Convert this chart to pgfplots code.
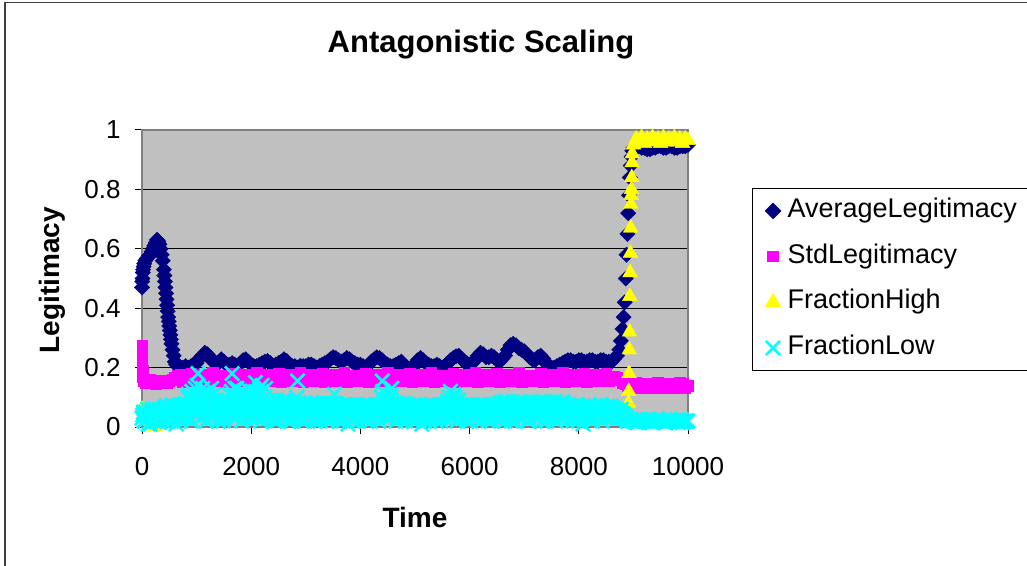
\documentclass[border=0pt]{standalone}
\usepackage{fontspec}
\setmainfont{Liberation Sans}
\usepackage{pgfplots}
\pgfplotsset{compat=1.18}
\definecolor{navyc}{HTML}{000080}
\definecolor{magc}{HTML}{FF00FF}
\definecolor{yelc}{HTML}{FFFF00}
\definecolor{cyc}{HTML}{00FFFF}
\definecolor{plotbg}{HTML}{C0C0C0}
\definecolor{bordc}{HTML}{808080}
\begin{document}
\begin{tikzpicture}[x=1pt,y=1pt]
\useasboundingbox (0,0) rectangle (1027,565);
\fill[white] (0,0) rectangle (1027,565);
\draw[line width=1.5pt, black!75] (4.8,-20) -- (4.8,562.5) -- (1050,562.5);
\node[font=\fontsize{31}{36}\selectfont\bfseries, anchor=base] at (481,512) {Antagonistic Scaling};
\node[font=\fontsize{28}{33}\selectfont\bfseries, rotate=90] at (52,285) {Legitimacy};
\node[font=\fontsize{28}{33}\selectfont\bfseries, anchor=base] at (415,38) {Time};
\begin{axis}[
  at={(142pt,138pt)}, anchor=south west,
  width=546pt, height=297pt, scale only axis,
  xmin=0, xmax=10000, ymin=0, ymax=1,
  xtick={0,2000,4000,6000,8000,10000},
  ytick={0,0.2,0.4,0.6,0.8,1},
  scaled x ticks=false,
  xticklabel style={/pgf/number format/1000 sep={}, yshift=-20pt},
  yticklabel style={xshift=-11pt},
  tick label style={font=\fontsize{26}{31}\selectfont},
  /pgf/number format/assume math mode=true,
  axis background/.style={fill=plotbg},
  axis line style={bordc, line width=1.3pt},
  ymajorgrids, grid style={black, line width=1pt},
  tick align=outside, tick pos=left, major tick length=7pt,
  tick style={black, line width=1pt},
  clip=false,
  legend cell align=left,
  legend style={at={(1.117,0.805)}, anchor=north west, draw=black, line width=1pt, fill=white,
    font=\fontsize{27}{31}\selectfont, inner xsep=13pt, inner ysep=10pt, column sep=7pt,
    nodes={inner sep=0pt, text height=19pt, text depth=6pt}, row sep=20.7pt},
]
\addplot[only marks, mark=square*, mark size=5.4pt, mark options={rotate=45, fill=navyc, draw=navyc}] coordinates {
(0,0.47)(5,0.49)(10,0.5)(15,0.52)(20,0.53)(30,0.54)(40,0.55)(60,0.56)(80,0.565)(100,0.57)(125,0.575)(150,0.58)(175,0.59)(200,0.6)(225,0.61)(250,0.62)(275,0.63)(300,0.625)(320,0.615)(340,0.6)(360,0.58)(380,0.56)(400,0.53)(410,0.51)(420,0.49)(430,0.47)(440,0.45)(450,0.43)(460,0.41)(470,0.39)(480,0.37)(490,0.355)(500,0.34)(510,0.325)(520,0.31)(530,0.295)(540,0.28)(560,0.26)(580,0.24)(600,0.22)(625,0.21)(650,0.205)(700,0.2)(750,0.2)(800,0.205)(850,0.2)(900,0.205)(950,0.21)(1000,0.215)(1050,0.23)(1100,0.24)(1150,0.25)(1200,0.245)(1250,0.235)(1300,0.22)(1350,0.215)(1400,0.215)(1450,0.228)(1500,0.22)(1550,0.21)(1600,0.21)(1650,0.215)(1700,0.21)(1750,0.205)(1800,0.215)(1850,0.225)(1900,0.228)(1950,0.22)(2000,0.21)(2050,0.205)(2100,0.205)(2150,0.21)(2200,0.215)(2250,0.22)(2300,0.222)(2350,0.215)(2400,0.205)(2450,0.21)(2500,0.215)(2550,0.22)(2600,0.228)(2650,0.222)(2700,0.21)(2750,0.205)(2800,0.205)(2850,0.2)(2900,0.206)(2950,0.205)(3000,0.205)(3050,0.21)(3100,0.21)(3150,0.205)(3200,0.2)(3250,0.205)(3300,0.21)(3350,0.215)(3400,0.22)(3450,0.228)(3500,0.235)(3550,0.232)(3600,0.225)(3650,0.22)(3700,0.225)(3750,0.232)(3800,0.228)(3850,0.22)(3900,0.215)(3950,0.21)(4000,0.21)(4050,0.205)(4100,0.2)(4150,0.21)(4200,0.22)(4250,0.228)(4300,0.235)(4350,0.232)(4400,0.225)(4450,0.215)(4500,0.21)(4550,0.205)(4600,0.205)(4650,0.21)(4700,0.215)(4750,0.22)(4800,0.21)(4850,0.2)(4900,0.195)(4950,0.195)(5000,0.21)(5050,0.225)(5100,0.232)(5150,0.225)(5200,0.215)(5250,0.21)(5300,0.205)(5350,0.205)(5400,0.21)(5450,0.205)(5500,0.2)(5550,0.205)(5600,0.215)(5650,0.225)(5700,0.232)(5750,0.238)(5800,0.24)(5850,0.23)(5900,0.22)(5950,0.215)(6000,0.21)(6050,0.215)(6100,0.225)(6150,0.24)(6200,0.25)(6250,0.245)(6300,0.235)(6350,0.235)(6400,0.24)(6450,0.235)(6500,0.225)(6550,0.22)(6600,0.23)(6650,0.24)(6700,0.26)(6750,0.275)(6800,0.28)(6850,0.275)(6900,0.265)(6950,0.26)(7000,0.255)(7050,0.245)(7100,0.235)(7150,0.228)(7200,0.225)(7250,0.235)(7300,0.24)(7350,0.23)(7400,0.215)(7450,0.205)(7500,0.2)(7550,0.2)(7600,0.205)(7650,0.21)(7700,0.215)(7750,0.22)(7800,0.225)(7850,0.225)(7900,0.22)(7950,0.22)(8000,0.225)(8050,0.225)(8100,0.22)(8150,0.22)(8200,0.225)(8250,0.225)(8300,0.22)(8350,0.22)(8400,0.225)(8450,0.225)(8500,0.22)(8550,0.22)(8600,0.22)(8650,0.23)(8700,0.24)(8740,0.26)(8770,0.29)(8800,0.33)(8820,0.37)(8840,0.42)(8860,0.5)(8875,0.58)(8890,0.65)(8905,0.72)(8920,0.78)(8935,0.84)(8950,0.88)(8965,0.91)(8980,0.93)(9000,0.94)(9050,0.945)(9100,0.945)(9150,0.94)(9200,0.94)(9250,0.935)(9300,0.935)(9350,0.94)(9400,0.94)(9450,0.945)(9500,0.945)(9550,0.94)(9600,0.94)(9650,0.945)(9700,0.945)(9750,0.94)(9800,0.94)(9850,0.945)(9900,0.945)(9950,0.945)(10000,0.95)
};
\addlegendentry{AverageLegitimacy}
\addplot[only marks, mark=square*, mark size=5.3pt, mark options={fill=magc, draw=magc}] coordinates {
(0,0.276)(3,0.25)(6,0.22)(9,0.19)(12,0.17)(20,0.155)(60,0.15)(100,0.148)(150,0.16)(200,0.15)(250,0.145)(300,0.155)(350,0.148)(400,0.158)(450,0.15)(500,0.155)(550,0.16)(600,0.165)(650,0.172)(700,0.178)(800,0.16)(900,0.18)(1000,0.165)(1100,0.178)(1200,0.16)(1300,0.182)(1400,0.165)(1500,0.175)(1600,0.158)(1700,0.18)(1800,0.168)(1900,0.178)(2000,0.16)(2100,0.182)(2200,0.165)(2300,0.176)(2400,0.158)(2500,0.18)(2600,0.166)(2700,0.178)(2800,0.16)(2900,0.182)(3000,0.165)(3100,0.177)(3200,0.158)(3300,0.18)(3400,0.168)(3500,0.178)(3600,0.16)(3700,0.182)(3800,0.165)(3900,0.175)(4000,0.158)(4100,0.18)(4200,0.166)(4300,0.178)(4400,0.16)(4500,0.182)(4600,0.165)(4700,0.177)(4800,0.158)(4900,0.18)(5000,0.168)(5100,0.178)(5200,0.16)(5300,0.182)(5400,0.165)(5500,0.175)(5600,0.158)(5700,0.18)(5800,0.166)(5900,0.178)(6000,0.16)(6100,0.182)(6200,0.165)(6300,0.177)(6400,0.158)(6500,0.18)(6600,0.168)(6700,0.178)(6800,0.16)(6900,0.182)(7000,0.165)(7100,0.175)(7200,0.158)(7300,0.18)(7400,0.166)(7500,0.178)(7600,0.16)(7700,0.182)(7800,0.165)(7900,0.177)(8000,0.158)(8100,0.18)(8200,0.168)(8300,0.178)(8400,0.16)(8500,0.18)(8600,0.17)(8650,0.17)(8700,0.165)(8750,0.158)(8800,0.15)(8850,0.145)(8900,0.14)(9000,0.135)(9100,0.145)(9200,0.138)(9300,0.142)(9400,0.135)(9500,0.145)(9600,0.138)(9700,0.142)(9800,0.135)(9900,0.145)(10000,0.14)
(750,0.152)(850,0.17)(950,0.154)(1050,0.16)(1150,0.152)(1250,0.172)(1350,0.155)(1450,0.162)(1550,0.152)(1650,0.17)(1750,0.155)(1850,0.16)(1950,0.153)(2050,0.168)(2150,0.152)(2250,0.162)(2350,0.156)(2450,0.17)(2550,0.152)(2650,0.16)(2750,0.154)(2850,0.168)(2950,0.152)(3050,0.162)(3150,0.155)(3250,0.17)(3350,0.152)(3450,0.16)(3550,0.154)(3650,0.168)(3750,0.152)(3850,0.162)(3950,0.155)(4050,0.17)(4150,0.152)(4250,0.16)(4350,0.154)(4450,0.168)(4550,0.152)(4650,0.162)(4750,0.155)(4850,0.17)(4950,0.152)(5050,0.16)(5150,0.154)(5250,0.168)(5350,0.152)(5450,0.162)(5550,0.155)(5650,0.17)(5750,0.152)(5850,0.16)(5950,0.154)(6050,0.168)(6150,0.152)(6250,0.162)(6350,0.155)(6450,0.17)(6550,0.152)(6650,0.16)(6750,0.154)(6850,0.168)(6950,0.152)(7050,0.162)(7150,0.155)(7250,0.17)(7350,0.152)(7450,0.16)(7550,0.154)(7650,0.168)(7750,0.152)(7850,0.162)(7950,0.155)(8050,0.17)(8150,0.152)(8250,0.16)(8350,0.154)(8450,0.168)(8550,0.155)
(8950,0.13)(9050,0.15)(9150,0.13)(9250,0.148)(9350,0.132)(9450,0.15)(9550,0.13)(9650,0.148)(9750,0.132)(9850,0.15)(9950,0.13)
};
\addlegendentry{StdLegitimacy}
\addplot[only marks, mark=triangle*, mark size=8.5pt, mark options={fill=yelc, draw=yelc}] coordinates {
(0,0.06)(240,0)
(8900,0.02)(8905,0.05)(8910,0.08)(8915,0.12)(8920,0.18)(8925,0.26)(8930,0.32)(8935,0.44)(8940,0.52)(8945,0.585)(8950,0.67)(8955,0.75)(8960,0.78)(8965,0.8)(8970,0.84)(8975,0.89)(8980,0.92)(9000,0.95)(9050,0.97)(9100,0.96)(9150,0.975)(9200,0.955)(9250,0.97)(9300,0.96)(9350,0.975)(9400,0.965)(9450,0.97)(9500,0.955)(9550,0.975)(9600,0.96)(9650,0.97)(9700,0.965)(9750,0.975)(9800,0.96)(9850,0.97)(9900,0.955)(9950,0.97)(10000,0.965)
};
\addlegendentry{FractionHigh}
\addplot[only marks, mark=x, mark size=10pt, mark options={draw=cyc, line width=2.6pt}] coordinates {
(0,0.03)(25,0.05)(50,0.02)(75,0.04)(100,0.06)(125,0.03)(150,0.01)(175,0.05)(200,0.04)(225,0.02)(250,0.06)(275,0.03)(300,0.05)(325,0.02)(350,0.04)
(375,0.06)(400,0.03)(425,0.07)(450,0.05)(475,0.02)(500,0.065)(525,0.04)(550,0.075)(575,0.03)(600,0.06)(625,0.01)(650,0.07)(675,0.05)(700,0.075)(725,0.03)(750,0.06)(775,0.04)
(800,0.08)(825,0.04)(850,0.11)(875,0.06)(900,0.02)(925,0.1)(950,0.07)(975,0.13)(1000,0.05)(1025,0.18)(1050,0.08)(1075,0.03)(1100,0.11)(1125,0.06)(1150,0.1)(1175,0.02)(1200,0.12)(1225,0.07)(1250,0.04)(1275,0.13)(1300,0.09)(1325,0.05)(1350,0.09)
(1375,0.05)(1400,0.02)(1425,0.07)(1450,0.04)(1475,0.08)(1500,0.03)(1525,0.06)(1550,0.08)
(1575,0.06)(1600,0.11)(1625,0.04)(1650,0.18)(1675,0.08)(1700,0.13)(1725,0.03)(1750,0.1)(1775,0.06)(1800,0.12)(1825,0.02)(1850,0.09)(1875,0.05)(1900,0.1)(1925,0.04)
(1950,0.08)(1975,0.12)(2000,0.03)(2025,0.1)(2050,0.06)(2075,0.15)(2100,0.04)(2125,0.09)(2150,0.13)(2175,0.02)(2200,0.14)(2225,0.07)(2250,0.1)(2275,0.05)(2300,0.09)
(2325,0.03)(2350,0.07)(2375,0.05)(2400,0.08)(2425,0.02)(2450,0.06)(2475,0.09)(2500,0.04)(2525,0.07)(2550,0.08)(2575,0.03)(2600,0.07)(2625,0.05)(2650,0.09)(2675,0.02)(2700,0.06)(2725,0.05)(2750,0.08)(2775,0.04)(2800,0.07)(2825,0.06)
(2850,0.155)
(2875,0.05)(2900,0.07)(2925,0.02)(2950,0.08)(2975,0.05)(3000,0.04)(3025,0.07)(3050,0.03)(3075,0.06)(3100,0.08)(3125,0.05)(3150,0.02)(3175,0.07)(3200,0.05)(3225,0.08)(3250,0.03)(3275,0.06)(3300,0.075)(3325,0.04)(3350,0.06)(3375,0.08)(3400,0.02)(3425,0.07)(3450,0.05)(3475,0.075)(3500,0.03)
(3525,0.11)
(3550,0.04)(3575,0.07)(3600,0.02)(3625,0.06)(3650,0.075)(3675,0.05)(3700,0.03)(3725,0.07)(3750,0.05)(3775,0.01)(3800,0.075)(3825,0.04)(3850,0.06)(3875,0.03)(3900,0.07)(3925,0.05)(3950,0.075)(3975,0.02)(4000,0.06)(4025,0.07)(4050,0.04)(4075,0.06)(4100,0.03)(4125,0.075)(4150,0.05)(4175,0.02)(4200,0.07)(4225,0.05)(4250,0.04)(4275,0.075)(4300,0.03)(4325,0.06)(4350,0.05)(4375,0.07)
(4400,0.155)
(4425,0.06)(4450,0.09)(4475,0.03)(4500,0.07)(4525,0.05)(4550,0.1)
(4575,0.13)
(4600,0.04)(4625,0.08)(4650,0.02)(4675,0.08)(4700,0.06)(4725,0.03)(4750,0.07)(4775,0.05)(4800,0.08)(4825,0.02)(4850,0.06)(4875,0.075)
(4900,0.03)(4925,0.07)(4950,0.05)(4975,0.075)(5000,0.02)(5025,0.06)(5050,0.04)(5075,0.075)(5100,0.05)(5125,0.01)(5150,0.07)(5175,0.05)(5200,0.03)(5225,0.075)(5250,0.06)(5275,0.02)(5300,0.06)(5325,0.075)(5350,0.04)(5375,0.07)(5400,0.03)(5425,0.06)(5450,0.075)(5475,0.02)(5500,0.05)(5525,0.07)(5550,0.04)(5575,0.06)
(5600,0.09)(5625,0.05)(5650,0.12)(5675,0.03)(5700,0.08)(5725,0.1)(5750,0.06)(5775,0.02)(5800,0.09)(5825,0.06)
(5850,0.03)(5875,0.07)(5900,0.05)(5925,0.075)(5950,0.02)(5975,0.06)(6000,0.07)(6025,0.04)(6050,0.075)(6075,0.03)(6100,0.06)(6125,0.05)(6150,0.075)(6175,0.02)(6200,0.07)(6225,0.05)(6250,0.04)(6275,0.075)(6300,0.03)(6325,0.06)(6350,0.05)(6375,0.07)(6400,0.02)(6425,0.06)(6450,0.075)(6475,0.04)(6500,0.06)(6525,0.03)
(6550,0.08)(6575,0.04)(6600,0.085)(6625,0.06)(6650,0.02)(6675,0.07)(6700,0.085)(6725,0.03)(6750,0.06)(6775,0.05)(6800,0.085)(6825,0.02)(6850,0.07)(6875,0.05)(6900,0.08)(6925,0.04)(6950,0.085)(6975,0.03)(7000,0.06)(7025,0.08)(7050,0.05)(7075,0.02)(7100,0.07)(7125,0.085)(7150,0.04)(7175,0.06)(7200,0.08)(7225,0.03)(7250,0.06)(7275,0.085)(7300,0.05)(7325,0.02)(7350,0.07)(7375,0.05)(7400,0.085)(7425,0.04)(7450,0.08)(7475,0.03)(7500,0.06)(7525,0.05)(7550,0.085)(7575,0.02)(7600,0.07)(7625,0.05)(7650,0.08)(7675,0.04)(7700,0.085)(7725,0.03)(7750,0.06)(7775,0.05)(7800,0.07)(7825,0.05)
(7850,0.05)(7875,0.07)(7900,0.02)(7925,0.06)(7950,0.04)(7975,0.075)(8000,0.03)(8025,0.06)(8050,0.07)(8075,0.01)(8100,0.05)(8125,0.065)(8150,0.03)(8175,0.075)(8200,0.04)(8225,0.06)(8250,0.02)(8275,0.07)(8300,0.05)(8325,0.065)(8350,0.03)(8375,0.06)(8400,0.075)(8425,0.02)(8450,0.05)(8475,0.065)(8500,0.04)(8525,0.07)(8550,0.03)(8575,0.06)(8600,0.05)(8625,0.065)(8650,0.04)
(8675,0.06)(8700,0.03)(8725,0.05)(8750,0.04)(8775,0.06)(8800,0.03)(8825,0.04)(8850,0.03)(8875,0.025)
(8900,0.02)(8950,0.025)(9000,0.02)(9050,0.015)(9100,0.02)(9150,0.025)(9200,0.02)(9250,0.02)(9300,0.025)(9350,0.015)(9400,0.02)(9450,0.025)(9500,0.02)(9550,0.02)(9600,0.015)(9650,0.025)(9700,0.02)(9750,0.02)(9800,0.025)(9850,0.02)(9900,0.015)(9950,0.02)(10000,0.02)
(12.5,0.04)(37.5,0.02)(62.5,0.05)(87.5,0.03)(112.5,0.01)(137.5,0.045)(162.5,0.035)(187.5,0.06)(212.5,0.02)(237.5,0.05)(262.5,0.03)(287.5,0.045)(312.5,0.015)(337.5,0.05)
(362.5,0.05)(387.5,0.02)(412.5,0.06)(437.5,0.04)(462.5,0.07)(487.5,0.03)(512.5,0.055)(537.5,0.02)(562.5,0.065)(587.5,0.045)(612.5,0.03)(637.5,0.07)(662.5,0.04)(687.5,0.06)(712.5,0.02)(737.5,0.075)(762.5,0.05)(787.5,0.03)
(812.5,0.06)(837.5,0.1)(862.5,0.03)(887.5,0.09)(912.5,0.12)(937.5,0.05)(962.5,0.11)(987.5,0.04)(1012.5,0.14)(1037.5,0.08)(1062.5,0.1)(1087.5,0.06)(1112.5,0.13)(1137.5,0.04)(1162.5,0.09)(1187.5,0.11)(1212.5,0.05)(1237.5,0.1)(1262.5,0.08)(1287.5,0.03)(1312.5,0.11)(1337.5,0.07)(1362.5,0.06)
(1387.5,0.06)(1412.5,0.03)(1437.5,0.075)(1462.5,0.05)(1487.5,0.02)(1512.5,0.07)(1537.5,0.04)(1562.5,0.09)
(1587.5,0.09)(1612.5,0.05)(1637.5,0.12)(1662.5,0.07)(1687.5,0.1)(1712.5,0.04)(1737.5,0.13)(1762.5,0.08)(1787.5,0.05)(1812.5,0.1)(1837.5,0.07)(1862.5,0.12)(1887.5,0.03)(1912.5,0.08)(1937.5,0.06)
(1962.5,0.05)(1987.5,0.09)(2012.5,0.12)(2037.5,0.06)(2062.5,0.1)(2087.5,0.03)(2112.5,0.11)(2137.5,0.08)(2162.5,0.05)(2187.5,0.12)(2212.5,0.09)(2237.5,0.04)(2262.5,0.13)(2287.5,0.07)(2312.5,0.06)
(2337.5,0.06)(2362.5,0.04)(2387.5,0.08)(2412.5,0.03)(2437.5,0.07)(2462.5,0.05)(2487.5,0.02)(2512.5,0.08)(2537.5,0.06)(2562.5,0.04)(2587.5,0.09)(2612.5,0.03)(2637.5,0.07)(2662.5,0.05)(2687.5,0.08)(2712.5,0.04)(2737.5,0.02)(2762.5,0.06)(2787.5,0.08)(2812.5,0.05)(2837.5,0.1)
(2862.5,0.08)(2887.5,0.03)(2912.5,0.06)(2937.5,0.05)(2962.5,0.08)(2987.5,0.02)(3012.5,0.06)(3037.5,0.075)(3062.5,0.04)(3087.5,0.05)(3112.5,0.07)(3137.5,0.03)(3162.5,0.06)(3187.5,0.08)(3212.5,0.04)(3237.5,0.05)(3262.5,0.02)(3287.5,0.07)(3312.5,0.06)(3337.5,0.08)(3362.5,0.03)(3387.5,0.05)(3412.5,0.07)(3437.5,0.04)(3462.5,0.06)(3487.5,0.08)(3512.5,0.05)
(3537.5,0.08)(3562.5,0.05)(3587.5,0.03)(3612.5,0.07)(3637.5,0.04)(3662.5,0.06)(3687.5,0.02)(3712.5,0.075)(3737.5,0.05)(3762.5,0.06)(3787.5,0.03)(3812.5,0.07)(3837.5,0.05)(3862.5,0.02)(3887.5,0.06)(3912.5,0.075)(3937.5,0.04)(3962.5,0.05)(3987.5,0.07)(4012.5,0.03)(4037.5,0.06)(4062.5,0.05)(4087.5,0.075)(4112.5,0.02)(4137.5,0.06)(4162.5,0.04)(4187.5,0.07)(4212.5,0.05)(4237.5,0.03)(4262.5,0.06)(4287.5,0.075)(4312.5,0.04)(4337.5,0.02)(4362.5,0.06)(4387.5,0.1)
(4412.5,0.12)(4437.5,0.04)(4462.5,0.07)(4487.5,0.05)(4512.5,0.09)(4537.5,0.03)(4562.5,0.11)(4587.5,0.06)(4612.5,0.05)(4637.5,0.07)(4662.5,0.03)(4687.5,0.06)(4712.5,0.075)(4737.5,0.04)(4762.5,0.06)(4787.5,0.05)(4812.5,0.03)(4837.5,0.075)(4862.5,0.05)(4887.5,0.04)
(4912.5,0.06)(4937.5,0.04)(4962.5,0.02)(4987.5,0.065)(5012.5,0.05)(5037.5,0.03)(5062.5,0.07)(5087.5,0.04)(5112.5,0.06)(5137.5,0.05)(5162.5,0.02)(5187.5,0.07)(5212.5,0.045)(5237.5,0.06)(5262.5,0.04)(5287.5,0.075)(5312.5,0.03)(5337.5,0.05)(5362.5,0.06)(5387.5,0.02)(5412.5,0.07)(5437.5,0.04)(5462.5,0.05)(5487.5,0.06)(5512.5,0.075)(5537.5,0.03)(5562.5,0.06)(5587.5,0.08)
(5612.5,0.07)(5637.5,0.1)(5662.5,0.04)(5687.5,0.08)(5712.5,0.11)(5737.5,0.05)(5762.5,0.09)(5787.5,0.04)(5812.5,0.07)(5837.5,0.05)
(5862.5,0.06)(5887.5,0.04)(5912.5,0.07)(5937.5,0.03)(5962.5,0.05)(5987.5,0.075)(6012.5,0.02)(6037.5,0.06)(6062.5,0.05)(6087.5,0.07)(6112.5,0.03)(6137.5,0.06)(6162.5,0.04)(6187.5,0.075)(6212.5,0.05)(6237.5,0.03)(6262.5,0.07)(6287.5,0.05)(6312.5,0.06)(6337.5,0.02)(6362.5,0.07)(6387.5,0.04)(6412.5,0.06)(6437.5,0.05)(6462.5,0.03)(6487.5,0.075)(6512.5,0.05)(6537.5,0.06)
(6562.5,0.06)(6587.5,0.03)(6612.5,0.075)(6637.5,0.05)(6662.5,0.085)(6687.5,0.04)(6712.5,0.06)(6737.5,0.07)(6762.5,0.02)(6787.5,0.08)(6812.5,0.05)(6837.5,0.065)(6862.5,0.035)(6887.5,0.085)(6912.5,0.05)(6937.5,0.07)(6962.5,0.03)(6987.5,0.06)(7012.5,0.08)(7037.5,0.045)(7062.5,0.065)(7087.5,0.025)(7112.5,0.085)(7137.5,0.055)(7162.5,0.07)(7187.5,0.04)(7212.5,0.06)(7237.5,0.08)(7262.5,0.03)(7287.5,0.065)(7312.5,0.05)(7337.5,0.085)(7362.5,0.04)(7387.5,0.07)(7412.5,0.02)(7437.5,0.06)(7462.5,0.08)(7487.5,0.05)(7512.5,0.065)(7537.5,0.035)(7562.5,0.085)(7587.5,0.045)(7612.5,0.06)(7637.5,0.075)(7662.5,0.03)(7687.5,0.055)(7712.5,0.08)(7737.5,0.04)(7762.5,0.065)(7787.5,0.05)(7812.5,0.075)(7837.5,0.03)
(7862.5,0.06)(7887.5,0.035)(7912.5,0.07)(7937.5,0.045)(7962.5,0.06)(7987.5,0.02)(8012.5,0.065)(8037.5,0.05)(8062.5,0.04)(8087.5,0.07)(8112.5,0.03)(8137.5,0.06)(8162.5,0.05)(8187.5,0.075)(8212.5,0.025)(8237.5,0.055)(8262.5,0.065)(8287.5,0.04)(8312.5,0.07)(8337.5,0.03)(8362.5,0.06)(8387.5,0.045)(8412.5,0.05)(8437.5,0.07)(8462.5,0.035)(8487.5,0.06)(8512.5,0.05)(8537.5,0.065)(8562.5,0.04)(8587.5,0.07)(8612.5,0.03)(8637.5,0.055)(8662.5,0.06)
(8687.5,0.04)(8712.5,0.055)(8737.5,0.03)(8762.5,0.05)(8787.5,0.035)(8812.5,0.045)(8837.5,0.03)(8862.5,0.035)(8887.5,0.02)
(8925,0.025)(8975,0.02)(9025,0.02)(9075,0.015)(9125,0.025)(9175,0.02)(9225,0.02)(9275,0.025)(9325,0.015)(9375,0.02)(9425,0.02)(9475,0.025)(9525,0.02)(9575,0.015)(9625,0.02)(9675,0.025)(9725,0.02)(9775,0.02)(9825,0.015)(9875,0.025)(9925,0.02)(9975,0.02)
};
\addlegendentry{FractionLow}
\end{axis}
\end{tikzpicture}
\end{document}
